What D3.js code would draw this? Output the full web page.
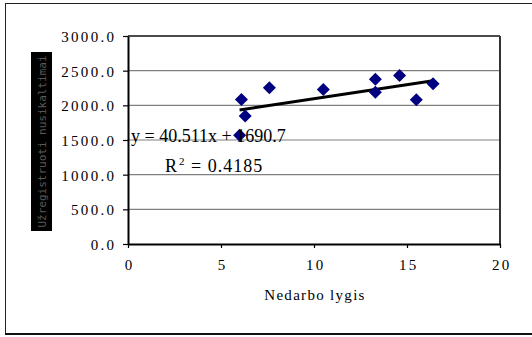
<!DOCTYPE html>
<html>
<head>
<meta charset="utf-8">
<script src="https://cdn.jsdelivr.net/npm/d3@7"></script>
<style>
  html, body { margin: 0; padding: 0; background: #fff; }
  svg { display: block; }
</style>
</head>
<body>
<svg id="chart" width="532" height="337"></svg>
<script>
// Unemployment rate vs. registered crimes
const unemployment = [6.0, 6.1, 6.3, 7.6, 10.5, 13.3, 13.3, 14.6, 15.5, 16.4];
const crimes = [1570, 2085, 1845, 2255, 2230, 2375, 2190, 2430, 2080, 2310];
const xTicks = [0, 5, 10, 15, 20];
const yTicks = [0, 500, 1000, 1500, 2000, 2500, 3000];
const slope = 40.511;
const intercept = 1690.7;
const rSquared = 0.4185;
const xTitle = "Nedarbo lygis";
const yTitle = "Užregistruoti nusikaltimai";

const serif = "Liberation Serif, Times New Roman, DejaVu Serif, serif";
const svg = d3.select("#chart");
const plotLeft = 128, plotRight = 500, plotTop = 36, plotBottom = 244;

const x = d3.scaleLinear().domain([0, 20]).range([plotLeft, plotRight]);
const y = d3.scaleLinear().domain([0, 3000]).range([plotBottom, plotTop]);

// outer chart frame
svg.append("rect").attr("x", 5.5).attr("y", 3.5).attr("width", 540).attr("height", 330.5)
  .attr("fill", "none").attr("stroke", "#222").attr("stroke-width", 1);
svg.append("line").attr("x1", 5).attr("x2", 532).attr("y1", 334).attr("y2", 334)
  .attr("stroke", "#111").attr("stroke-width", 2);

// horizontal gridlines
svg.append("g").selectAll("line").data(yTicks.filter(d => d > 0 && d < 3000)).join("line")
  .attr("x1", plotLeft).attr("x2", plotRight)
  .attr("y1", d => y(d)).attr("y2", d => y(d))
  .attr("stroke", "#808080").attr("stroke-width", 1.2);

// plot area top and right edges
svg.append("line").attr("x1", plotLeft).attr("x2", plotRight).attr("y1", plotTop).attr("y2", plotTop)
  .attr("stroke", "#111").attr("stroke-width", 1.6);
svg.append("line").attr("x1", plotRight).attr("x2", plotRight).attr("y1", plotTop).attr("y2", plotBottom)
  .attr("stroke", "#333").attr("stroke-width", 2);

// axes
const fmtY = d3.format(".1f");
const yAxis = svg.append("g").attr("transform", `translate(${plotLeft},0)`)
  .call(d3.axisLeft(y).tickValues(yTicks).tickFormat(fmtY).tickSize(5).tickSizeOuter(0).tickPadding(9));
const xAxis = svg.append("g").attr("transform", `translate(0,${plotBottom})`)
  .call(d3.axisBottom(x).tickValues(xTicks).tickSize(4).tickSizeOuter(0).tickPadding(10));

[yAxis, xAxis].forEach(g => {
  g.attr("font-family", serif).attr("font-size", 15);
  g.select(".domain").attr("stroke", "#000").attr("stroke-width", 2);
  g.selectAll(".tick line").attr("stroke", "#000").attr("stroke-width", 1.2);
  g.selectAll("text")
    .style("font-family", serif)
    .style("font-size", "15px")
    .attr("fill", "#000")
    .attr("letter-spacing", 2.3);
});
yAxis.selectAll("text").attr("dx", 2.3).attr("dy", "0.36em");
xAxis.selectAll("text").attr("dx", 1.2).attr("dy", "0.78em");

// axis titles
svg.append("text")
  .attr("x", (plotLeft + plotRight) / 2 + 1).attr("y", 300)
  .attr("text-anchor", "middle")
  .style("font-family", serif)
  .style("font-size", "15px").attr("letter-spacing", 1.3)
  .text(xTitle);

const yLab = svg.append("g").attr("transform", "translate(41.5,141.5) rotate(-90)");
yLab.append("rect").attr("x", -89.5).attr("y", -10.5).attr("width", 179).attr("height", 21)
  .attr("fill", "#000");
yLab.append("text")
  .attr("x", 0).attr("y", 4)
  .attr("text-anchor", "middle")
  .style("font-family", "DejaVu Sans Mono, monospace")
  .style("font-size", "11px").attr("fill", "#5a5a5a")
  .attr("textLength", 172).attr("lengthAdjust", "spacingAndGlyphs")
  .text(yTitle);

// linear trendline over the data range
const xMin = d3.min(unemployment), xMax = d3.max(unemployment);
svg.append("line")
  .attr("x1", x(xMin)).attr("y1", y(slope * xMin + intercept))
  .attr("x2", x(xMax)).attr("y2", y(slope * xMax + intercept))
  .attr("stroke", "#000").attr("stroke-width", 3);

// data points as navy diamonds
const pts = unemployment.map((v, i) => [v, crimes[i]]);
svg.append("g").selectAll("path").data(pts).join("path")
  .attr("transform", d => `translate(${x(d[0])},${y(d[1])})`)
  .attr("d", "M0,-6.5L6.5,0L0,6.5L-6.5,0Z")
  .attr("fill", "#000080");

// regression equation and R²
svg.append("text")
  .attr("x", 131).attr("y", 141.5)
  .style("font-family", serif).style("font-size", "18px").attr("fill", "#000")
  .text(`y = ${slope}x + ${intercept}`);
const r2 = svg.append("text")
  .attr("x", 165).attr("y", 171.5)
  .style("font-family", serif).style("font-size", "18px").attr("fill", "#000");
r2.append("tspan").text("R");
r2.append("tspan").style("font-size", "11px").attr("dy", -7).attr("dx", 2).text("2");
r2.append("tspan").attr("dy", 7).attr("dx", 1).attr("letter-spacing", 1).text(` = ${rSquared}`);
</script>
</body>
</html>
